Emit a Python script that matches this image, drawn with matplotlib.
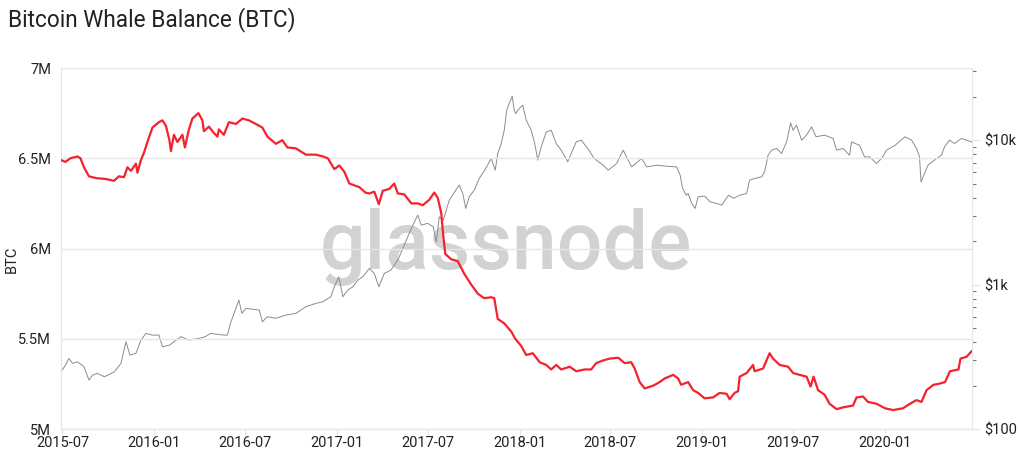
import numpy as np
import pandas as pd
import matplotlib
matplotlib.use("Agg")
import matplotlib.pyplot as plt
import matplotlib.dates as mdates
from matplotlib.ticker import FixedLocator, NullFormatter, FuncFormatter

plt.rcParams['font.family'] = ['Roboto', 'DejaVu Sans']

# whale balance (BTC, millions)
whale_dates = [
    "2015-06-28", "2015-07-07", "2015-07-17", "2015-07-31", "2015-08-06", "2015-08-13",
    "2015-08-23", "2015-09-06", "2015-09-26", "2015-10-12", "2015-10-22", "2015-11-01",
    "2015-11-08", "2015-11-15", "2015-11-25", "2015-11-28", "2015-12-05", "2015-12-11",
    "2015-12-18", "2015-12-28", "2016-01-10", "2016-01-17", "2016-01-24", "2016-01-31",
    "2016-02-03", "2016-02-09", "2016-02-16", "2016-02-26", "2016-03-02", "2016-03-10",
    "2016-03-17", "2016-03-29", "2016-04-06", "2016-04-09", "2016-04-19", "2016-04-29",
    "2016-05-06", "2016-05-09", "2016-05-19", "2016-05-29", "2016-06-12", "2016-06-25",
    "2016-07-08", "2016-07-22", "2016-08-04", "2016-08-14", "2016-08-31", "2016-09-13",
    "2016-09-23", "2016-10-10", "2016-10-30", "2016-11-19", "2016-12-03", "2016-12-13",
    "2016-12-26", "2017-01-05", "2017-01-15", "2017-01-25", "2017-02-14", "2017-02-26",
    "2017-03-06", "2017-03-16", "2017-03-25", "2017-04-02", "2017-04-15", "2017-04-25",
    "2017-05-02", "2017-05-15", "2017-05-29", "2017-06-11", "2017-06-21", "2017-07-04",
    "2017-07-14", "2017-07-21", "2017-07-28", "2017-08-01", "2017-08-05", "2017-08-17",
    "2017-08-30", "2017-09-12", "2017-09-26", "2017-10-09", "2017-10-22", "2017-11-05",
    "2017-11-11", "2017-11-18", "2017-12-01", "2017-12-15", "2017-12-23", "2018-01-04",
    "2018-01-14", "2018-01-27", "2018-02-10", "2018-02-23", "2018-03-05", "2018-03-15",
    "2018-03-25", "2018-04-11", "2018-04-24", "2018-05-11", "2018-05-24", "2018-06-03",
    "2018-06-17", "2018-06-30", "2018-07-17", "2018-07-30", "2018-08-12", "2018-08-19",
    "2018-08-29", "2018-09-08", "2018-09-25", "2018-10-08", "2018-10-18", "2018-11-04",
    "2018-11-14", "2018-11-20", "2018-12-04", "2018-12-14", "2018-12-24", "2019-01-06",
    "2019-01-23", "2019-02-05", "2019-02-19", "2019-02-25", "2019-03-07", "2019-03-14",
    "2019-03-17", "2019-03-31", "2019-04-13", "2019-04-16", "2019-05-03", "2019-05-16",
    "2019-05-23", "2019-06-05", "2019-06-22", "2019-07-02", "2019-07-15", "2019-07-29",
    "2019-08-06", "2019-08-12", "2019-08-21", "2019-09-03", "2019-09-13", "2019-09-27",
    "2019-10-10", "2019-10-30", "2019-11-06", "2019-11-19", "2019-11-29", "2019-12-16",
    "2020-01-02", "2020-01-18", "2020-02-07", "2020-02-21", "2020-03-05", "2020-03-15",
    "2020-03-25", "2020-04-08", "2020-04-18", "2020-05-01", "2020-05-11", "2020-05-28",
    "2020-06-01", "2020-06-13", "2020-06-23",
]
whale_balance = [
    6.49, 6.48, 6.50, 6.51, 6.50, 6.45,
    6.40, 6.39, 6.385, 6.375, 6.40, 6.395,
    6.45, 6.43, 6.47, 6.42, 6.49, 6.53,
    6.59, 6.67, 6.70, 6.71, 6.68, 6.60,
    6.54, 6.63, 6.59, 6.63, 6.56, 6.66,
    6.72, 6.75, 6.71, 6.65, 6.675, 6.64,
    6.62, 6.66, 6.63, 6.70, 6.69, 6.72,
    6.71, 6.69, 6.67, 6.62, 6.58, 6.60,
    6.56, 6.555, 6.52, 6.52, 6.51, 6.50,
    6.44, 6.46, 6.425, 6.36, 6.34, 6.31,
    6.305, 6.315, 6.245, 6.32, 6.33, 6.36,
    6.305, 6.30, 6.25, 6.25, 6.24, 6.27,
    6.31, 6.28, 6.195, 6.07, 5.97, 5.94,
    5.93, 5.86, 5.80, 5.75, 5.725, 5.73,
    5.725, 5.61, 5.585, 5.54, 5.50, 5.46,
    5.41, 5.42, 5.37, 5.355, 5.33, 5.355,
    5.33, 5.345, 5.32, 5.33, 5.33, 5.365,
    5.38, 5.39, 5.395, 5.365, 5.37, 5.335,
    5.26, 5.225, 5.24, 5.26, 5.28, 5.30,
    5.28, 5.245, 5.26, 5.215, 5.20, 5.17,
    5.175, 5.20, 5.195, 5.165, 5.20, 5.21,
    5.29, 5.31, 5.355, 5.32, 5.335, 5.42,
    5.39, 5.355, 5.345, 5.31, 5.30, 5.29,
    5.235, 5.29, 5.215, 5.19, 5.14, 5.11,
    5.12, 5.13, 5.175, 5.18, 5.15, 5.14,
    5.115, 5.105, 5.115, 5.14, 5.16, 5.15,
    5.215, 5.245, 5.25, 5.26, 5.32, 5.33,
    5.39, 5.40, 5.43,
]

# BTC price (USD)
price_dates = [
    "2015-06-28", "2015-07-07", "2015-07-14", "2015-07-21", "2015-07-31", "2015-08-13",
    "2015-08-23", "2015-08-30", "2015-09-09", "2015-09-23", "2015-10-13", "2015-10-26",
    "2015-11-05", "2015-11-13", "2015-11-25", "2015-12-05", "2015-12-15", "2015-12-28",
    "2016-01-10", "2016-01-17", "2016-01-31", "2016-02-23", "2016-03-10", "2016-03-30",
    "2016-04-12", "2016-04-22", "2016-05-19", "2016-05-26", "2016-06-01", "2016-06-12",
    "2016-06-18", "2016-06-24", "2016-07-02", "2016-07-19", "2016-07-29", "2016-08-04",
    "2016-08-14", "2016-08-31", "2016-09-20", "2016-10-10", "2016-10-30", "2016-11-19",
    "2016-12-03", "2016-12-19", "2016-12-26", "2017-01-04", "2017-01-12", "2017-01-22",
    "2017-02-01", "2017-02-11", "2017-02-21", "2017-02-26", "2017-03-06", "2017-03-16",
    "2017-03-25", "2017-04-05", "2017-04-18", "2017-05-02", "2017-05-15", "2017-05-29",
    "2017-06-11", "2017-06-18", "2017-07-01", "2017-07-12", "2017-07-18", "2017-07-24",
    "2017-08-01", "2017-08-13", "2017-08-26", "2017-09-02", "2017-09-09", "2017-09-15",
    "2017-09-22", "2017-10-02", "2017-10-12", "2017-10-25", "2017-11-05", "2017-11-13",
    "2017-11-18", "2017-11-25", "2017-12-01", "2017-12-06", "2017-12-11", "2017-12-17",
    "2017-12-21", "2017-12-24", "2017-12-31", "2018-01-07", "2018-01-14", "2018-01-24",
    "2018-01-31", "2018-02-06", "2018-02-13", "2018-02-23", "2018-03-05", "2018-03-15",
    "2018-03-25", "2018-04-07", "2018-04-24", "2018-05-04", "2018-05-17", "2018-05-30",
    "2018-06-17", "2018-06-27", "2018-07-14", "2018-07-27", "2018-08-06", "2018-08-13",
    "2018-09-02", "2018-09-12", "2018-10-02", "2018-10-22", "2018-11-11", "2018-11-18",
    "2018-11-23", "2018-11-30", "2018-12-04", "2018-12-11", "2018-12-18", "2018-12-24",
    "2019-01-06", "2019-01-17", "2019-01-30", "2019-02-09", "2019-02-23", "2019-03-05",
    "2019-03-17", "2019-03-31", "2019-04-06", "2019-04-16", "2019-04-30", "2019-05-06",
    "2019-05-13", "2019-05-20", "2019-05-30", "2019-06-09", "2019-06-19", "2019-06-27",
    "2019-07-02", "2019-07-09", "2019-07-19", "2019-07-29", "2019-08-08", "2019-08-17",
    "2019-09-03", "2019-09-20", "2019-09-27", "2019-10-10", "2019-10-23", "2019-10-27",
    "2019-11-12", "2019-11-22", "2019-12-02", "2019-12-16", "2019-12-26", "2020-01-05",
    "2020-01-22", "2020-02-11", "2020-02-24", "2020-03-05", "2020-03-11", "2020-03-14",
    "2020-03-21", "2020-03-28", "2020-04-10", "2020-04-24", "2020-04-30", "2020-05-10",
    "2020-05-20", "2020-06-03", "2020-06-13", "2020-06-23",
]
price_usd = [
    249, 277, 308, 285, 292, 270,
    218, 236, 243, 230, 249, 285,
    402, 325, 334, 413, 459, 447,
    447, 371, 381, 436, 413, 424,
    436, 459, 447, 447, 538, 684,
    781, 632, 684, 673, 666, 553,
    599, 584, 615, 632, 702, 741,
    760, 824, 966, 1133, 824, 916,
    966, 1075, 1133, 1194, 1294, 1194,
    966, 1194, 1259, 1479, 1877, 2447,
    3027, 2582, 2653, 2512, 1977, 2944,
    2793, 3846, 4508, 4887, 4276, 3365,
    4055, 4508, 5433, 6368, 7467, 6194,
    8086, 9480, 11720, 16130, 17960, 20180,
    16130, 15300, 16570, 17460, 13740, 11720,
    9480, 7280, 8990, 11400, 11720, 9480,
    8530, 7080, 9720, 10000, 8770, 7470,
    6710, 6190, 6900, 8530, 7280, 6530,
    7470, 6530, 6710, 6600, 6530, 5730,
    4630, 4160, 4276, 3650, 3365, 4055,
    4100, 3740, 3650, 3548, 4160, 3955,
    4160, 4276, 5283, 5433, 5571, 6040,
    7870, 8530, 8770, 8090, 9720, 13180,
    11720, 12700, 10000, 10840, 12370, 10550,
    10840, 10280, 8530, 8770, 7870, 9720,
    9210, 7660, 7660, 6900, 7470, 8530,
    9210, 10550, 10000, 8770, 7660, 5140,
    5890, 6710, 7280, 7870, 8990, 10000,
    9480, 10280, 10000, 9720,
]

grid_c = "#e6e6e6"
text_c = "#222222"

fig = plt.figure(figsize=(10.18, 4.62), dpi=100)
ax = fig.add_axes([0.0599, 0.0714, 0.8949, 0.7814])
ax2 = ax.twinx()
ax.set_zorder(2)
ax.patch.set_visible(False)

wd = pd.to_datetime(whale_dates)
pdts = pd.to_datetime(price_dates)

ax2.plot(pdts, price_usd, color="#8c8c8c", lw=0.7, zorder=2)
ax2.set_yscale("log")
ax2.set_ylim(100, 31600)
ax2.text(0.488, 0.505, "glassnode", transform=ax2.transAxes, ha="center", va="center",
         fontsize=58, fontweight="medium", color="#d2d2d2", zorder=0)

ax.plot(wd, whale_balance, color="#f5222d", lw=1.6, zorder=3)
ax.set_ylim(5.0, 7.0)
ax.set_yticks([5.0, 5.5, 6.0, 6.5, 7.0])
ax.set_yticklabels(["5M", "5.5M", "6M", "6.5M", "7M"])
ax.set_xlim(pd.Timestamp("2015-06-28"), pd.Timestamp("2020-06-24"))
ax.xaxis.set_major_locator(mdates.MonthLocator(bymonth=[1, 7]))
ax.xaxis.set_major_formatter(mdates.DateFormatter("%Y-%m"))
ax.grid(axis="y", color=grid_c, lw=1)
ax.set_axisbelow(True)

for a in (ax, ax2):
    for s in a.spines.values():
        s.set_color(grid_c)
    a.spines["top"].set_visible(False)

ax.spines["right"].set_visible(False)
ax.tick_params(axis="y", length=0, labelsize=10.5, colors=text_c, pad=7)
ax.tick_params(axis="x", length=4, color=grid_c, labelsize=10.5, labelcolor=text_c, pad=1)
ax.set_ylabel("BTC", fontsize=10.5, color=text_c)
ax.yaxis.set_label_coords(-0.046, 0.47)

ax2.yaxis.set_major_locator(FixedLocator([100, 1000, 10000]))
ax2.yaxis.set_major_formatter(FuncFormatter(lambda v, p: {100: "$100", 1000: "$1k", 10000: "$10k"}.get(int(round(v)), "")))
minor = [m * d for d in (100, 1000, 10000) for m in range(2, 10) if m * d < 31600]
ax2.yaxis.set_minor_locator(FixedLocator(minor))
ax2.yaxis.set_minor_formatter(NullFormatter())
ax2.tick_params(axis="y", which="major", length=6, color=grid_c, labelsize=10.5, labelcolor=text_c, pad=3)
ax2.tick_params(axis="y", which="minor", length=3, color="#777777", width=0.8)

fig.text(0.008, 0.958, "Bitcoin Whale Balance (BTC)", fontsize=16.3, color=text_c, ha="left", va="center")

fig.savefig("out.png", dpi=100)
